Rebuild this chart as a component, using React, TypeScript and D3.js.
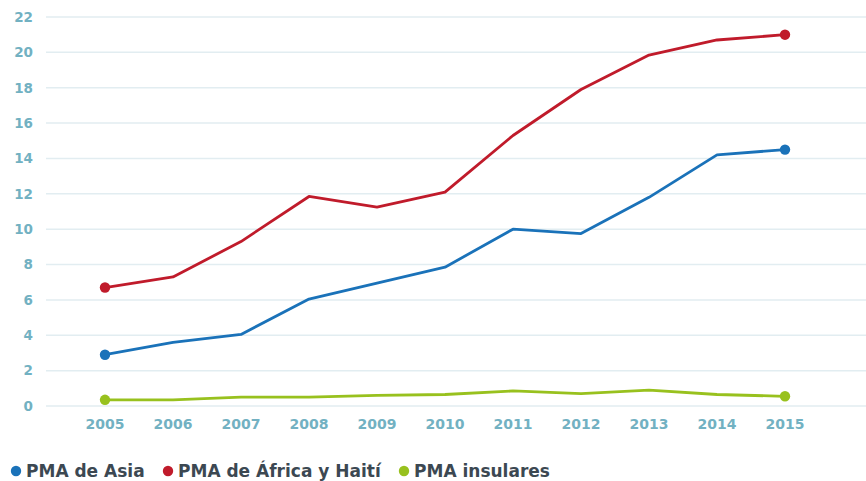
import * as d3 from 'd3';

const years = [2005, 2006, 2007, 2008, 2009, 2010, 2011, 2012, 2013, 2014, 2015];
const asia = [2.9, 3.6, 4.05, 6.05, 6.95, 7.85, 10.0, 9.75, 11.8, 14.2, 14.5];
const africa = [6.7, 7.3, 9.3, 11.85, 11.25, 12.1, 15.3, 17.9, 19.85, 20.7, 21.0];
const islands = [0.35, 0.35, 0.5, 0.5, 0.6, 0.65, 0.85, 0.7, 0.9, 0.65, 0.55];
const yTicks = [0, 2, 4, 6, 8, 10, 12, 14, 16, 18, 20, 22];

const series = [
  { name: 'PMA de Asia', values: asia, color: '#1a72b9' },
  { name: 'PMA de África y Haití', values: africa, color: '#c01b2b' },
  { name: 'PMA insulares', values: islands, color: '#98c11e' },
];

const width = 866;
const height = 481;
const font = "'DejaVu Sans', sans-serif";

export default function App() {
  const x = d3.scaleLinear().domain([2005, 2015]).range([105, 785]);
  const y = d3.scaleLinear().domain([0, 22]).range([406, 17]);

  const line = d3.line<number>()
    .x((d, i) => x(years[i]))
    .y(d => y(d));

  const legendX = [16, 168, 404];

  return (
    <svg width={width} height={height} style={{ position: 'absolute', left: 0, top: 0, background: '#fff' }}>
      {yTicks.map(t => (
        <g key={t}>
          <line x1={46} x2={866} y1={y(t)} y2={y(t)} stroke="#e2edf1" strokeWidth={1.5} />
          <text x={33} y={y(t)} dy="0.36em" textAnchor="end" fontFamily={font}
            fontWeight="bold" fontSize={13.5} fill="#72b1c2">{t}</text>
        </g>
      ))}
      {years.map(yr => (
        <text key={yr} x={x(yr)} y={429} textAnchor="middle" fontFamily={font}
          fontWeight="bold" fontSize={14} fill="#72b1c2">{yr}</text>
      ))}
      {series.map(s => (
        <g key={s.name}>
          <path d={line(s.values) || ''} fill="none" stroke={s.color} strokeWidth={2.8} strokeLinejoin="round" />
          <circle cx={x(years[0])} cy={y(s.values[0])} r={5.2} fill={s.color} />
          <circle cx={x(years[years.length - 1])} cy={y(s.values[s.values.length - 1])} r={5.2} fill={s.color} />
        </g>
      ))}
      {series.map((s, i) => (
        <g key={s.name} transform={`translate(${legendX[i]},471)`}>
          <circle cx={0} cy={0} r={5.2} fill={s.color} />
          <text x={10} y={0} dy="0.36em" fontFamily={font} fontWeight="bold" fontSize={17} fill="#3c4852">{s.name}</text>
        </g>
      ))}
    </svg>
  );
}
